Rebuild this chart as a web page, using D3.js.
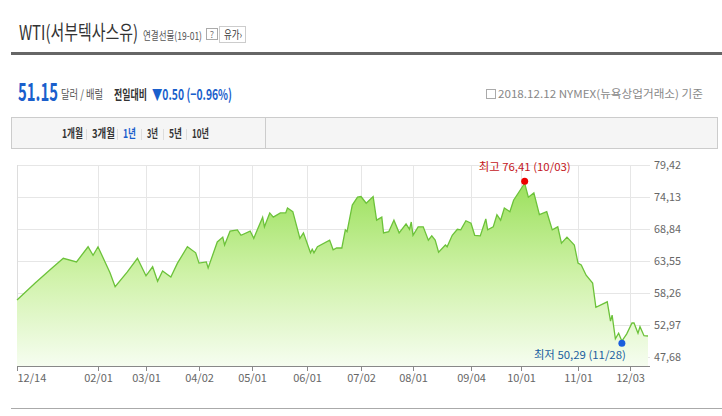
<!DOCTYPE html>
<html><head><meta charset="utf-8">
<script src="https://cdn.jsdelivr.net/npm/d3@7"></script>
<style>body{margin:0;background:#fff;font-family:"Noto Sans CJK KR","Noto Sans",sans-serif}</style>
</head><body><svg id="c" width="722" height="416"></svg>
<script>
const dates=["2017-12-14","2017-12-25","2018-01-03","2018-01-11","2018-01-19","2018-01-26","2018-01-29","2018-02-01","2018-02-08","2018-02-11","2018-02-18","2018-02-24","2018-03-01","2018-03-05","2018-03-08","2018-03-11","2018-03-16","2018-03-20","2018-03-26","2018-03-31","2018-04-02","2018-04-06","2018-04-07","2018-04-12","2018-04-15","2018-04-16","2018-04-19","2018-04-23","2018-04-25","2018-04-30","2018-05-02","2018-05-04","2018-05-07","2018-05-08","2018-05-11","2018-05-13","2018-05-17","2018-05-20","2018-05-21","2018-05-24","2018-05-28","2018-05-30","2018-06-03","2018-06-04","2018-06-05","2018-06-07","2018-06-14","2018-06-16","2018-06-18","2018-06-21","2018-06-23","2018-06-24","2018-06-27","2018-06-30","2018-07-02","2018-07-05","2018-07-09","2018-07-11","2018-07-14","2018-07-15","2018-07-18","2018-07-21","2018-07-24","2018-07-28","2018-07-30","2018-07-31","2018-08-01","2018-08-04","2018-08-07","2018-08-10","2018-08-12","2018-08-14","2018-08-16","2018-08-20","2018-08-21","2018-08-24","2018-08-27","2018-08-29","2018-09-01","2018-09-04","2018-09-06","2018-09-09","2018-09-12","2018-09-13","2018-09-16","2018-09-18","2018-09-20","2018-09-22","2018-09-25","2018-09-27","2018-10-03","2018-10-05","2018-10-08","2018-10-11","2018-10-15","2018-10-18","2018-10-21","2018-10-23","2018-10-26","2018-10-30","2018-11-01","2018-11-03","2018-11-06","2018-11-10","2018-11-12","2018-11-19","2018-11-21","2018-11-22","2018-11-24","2018-11-26","2018-11-28","2018-12-01","2018-12-04","2018-12-05","2018-12-07","2018-12-08","2018-12-10","2018-12-12"];
const prices=[57.1,59.9,62.1,64.0,63.4,65.9,64.5,65.9,61.6,59.3,61.7,64.0,61.1,62.6,60.2,61.9,60.9,63.2,65.9,64.9,63.2,63.4,62.4,66.7,67.5,66.2,68.5,68.7,67.8,68.5,67.3,68.7,70.8,69.2,71.5,70.8,71.5,71.5,72.3,71.7,67.3,68.2,64.9,65.5,64.9,65.9,67.0,65.4,65.7,65.7,68.7,68.4,72.8,74.1,74.2,73.1,74.2,70.3,70.8,68.2,68.4,70.3,68.2,69.7,68.8,70.0,67.8,69.2,69.2,67.0,67.7,67.0,65.0,66.2,65.9,67.8,68.8,68.7,70.2,69.8,67.8,67.7,70.5,68.7,69.2,71.2,70.3,72.3,71.7,73.6,76.41,74.1,74.8,71.2,71.7,68.7,69.2,66.5,67.5,66.2,63.2,62.9,61.2,59.9,55.9,56.8,53.6,54.6,50.7,51.6,50.29,51.5,53.3,53.3,51.6,52.7,51.2,51.15];
const tickDates=["2017-12-14","2018-02-01","2018-03-01","2018-04-02","2018-05-01","2018-06-01","2018-07-02","2018-08-01","2018-09-04","2018-10-01","2018-11-01","2018-12-03","2018-12-12"];
const tickLabels=["12/14","02/01","03/01","04/02","05/01","06/01","07/02","08/01","09/04","10/01","11/01","12/03"];
const yTicks=[47.68,52.97,58.26,63.55,68.84,74.13,79.42];
const tabs=["1개월","3개월","1년","3년","5년","10년"];

const P=d3.timeParse("%Y-%m-%d");
const data=dates.map((d,i)=>({d:P(d),v:prices[i]}));
const svg=d3.select("#c");
const x=d3.scaleTime().domain(tickDates.map(P)).range([17,98,146,199,252,307,361,413,471,521,578,630,648]);
const y=d3.scaleLinear().domain([47.68,79.42]).range([357,165]);

function T(px,py,s,o){const t=svg.append("text").attr("x",px).attr("y",py).text(s)
  .attr("font-size",o.size||11).attr("fill",o.fill||"#333");
  if(o.bold)t.attr("font-weight","bold");
  if(o.anchor)t.attr("text-anchor",o.anchor);
  if(o.w)t.attr("textLength",o.w).attr("lengthAdjust","spacingAndGlyphs");
  return t;}

// header
T(19,40,"WTI(서부텍사스유)",{size:20,w:119,fill:"#333"});
T(143,40,"연결선물(19-01)",{size:11,w:59,fill:"#555"});
svg.append("rect").attr("x",206.5).attr("y",28.5).attr("width",11).attr("height",11).attr("fill","#fff").attr("stroke","#aaa");
T(212,37.5,"?",{size:9,fill:"#777",anchor:"middle"});
svg.append("rect").attr("x",219.5).attr("y",26.5).attr("width",26).attr("height",16).attr("fill","#fff").attr("stroke","#ccc");
T(224,39,"유가›",{size:11,w:18,fill:"#333"});
svg.append("rect").attr("x",11).attr("y",52).attr("width",711).attr("height",3).attr("fill","#666");
T(18,101,"51.15",{size:25,bold:true,fill:"#1a5fcc",w:40});
T(61,99,"달러 / 배럴",{size:12,fill:"#555",w:42});
T(114,99,"전일대비",{size:13,bold:true,fill:"#333",w:33});
T(152,100,"▼0.50 (−0.96%)",{size:15,bold:true,fill:"#1a5fcc",w:80});
T(703,98,"2018.12.12 NYMEX(뉴욕상업거래소) 기준",{size:11,fill:"#888",anchor:"end",w:205});
svg.append("rect").attr("x",486.5).attr("y",89.5).attr("width",9).attr("height",9).attr("fill","none").attr("stroke","#aaa");
// tabs
svg.append("rect").attr("x",11.5).attr("y",117.5).attr("width",706).attr("height",31).attr("fill","#f5f5f5").attr("stroke","#ccc");
svg.append("line").attr("x1",265.5).attr("x2",265.5).attr("y1",118).attr("y2",148).attr("stroke","#ccc");
const tx=[62,92,123,147,169,192], tw=[21,23,13,11,13,17];
tabs.forEach((t,i)=>{
  T(tx[i],138,t,{size:12,bold:true,fill:i==2?"#1a5fcc":"#333",w:tw[i]});
  if(i>0) svg.append("line").attr("x1",tx[i]-5.5).attr("x2",tx[i]-5.5).attr("y1",129).attr("y2",140).attr("stroke","#ddd");
});

// grid
const g=svg.append("g");
yTicks.forEach(t=>{
  g.append("line").attr("x1",17).attr("x2",650).attr("y1",Math.round(y(t))+.5).attr("y2",Math.round(y(t))+.5).attr("stroke","#e6e6e6");
  g.append("text").attr("x",654).attr("y",y(t)+4).attr("font-size",11).attr("fill","#666").attr("textLength",27).attr("lengthAdjust","spacingAndGlyphs").text(t.toFixed(2).replace(".",","));
});
tickLabels.forEach((l,i)=>{
  const xx=Math.round(x(P(tickDates[i])))+.5;
  g.append("line").attr("x1",xx).attr("x2",xx).attr("y1",165).attr("y2",366).attr("stroke","#e6e6e6");
  g.append("line").attr("x1",xx).attr("x2",xx).attr("y1",366).attr("y2",371).attr("stroke","#888");
  g.append("text").attr("x",xx).attr("y",382).attr("font-size",11).attr("fill","#666").attr("text-anchor",i==0?"start":"middle").text(l);
});
g.append("line").attr("x1",17.5).attr("x2",17.5).attr("y1",165).attr("y2",366).attr("stroke","#ddd");

const grad=svg.append("defs").append("linearGradient").attr("id","gr").attr("x1",0).attr("x2",0).attr("y1",0).attr("y2",1);
grad.append("stop").attr("offset","0").attr("stop-color","#9be05c");
grad.append("stop").attr("offset","0.5").attr("stop-color","#cff2a8");
grad.append("stop").attr("offset","1").attr("stop-color","#f6fdf0");
svg.append("path").datum(data).attr("fill","url(#gr)").attr("d",d3.area().x(d=>x(d.d)).y0(366).y1(d=>y(d.v)));
svg.append("path").datum(data).attr("fill","none").attr("stroke","#6cc23a").attr("stroke-width",1.3).attr("d",d3.line().x(d=>x(d.d)).y(d=>y(d.v)));
svg.append("line").attr("x1",17).attr("x2",650).attr("y1",366.5).attr("y2",366.5).attr("stroke","#888");

const hi=data[d3.maxIndex(data,d=>d.v)], lo=data[d3.minIndex(data,d=>d.v)];
svg.append("circle").attr("cx",x(hi.d)).attr("cy",y(hi.v)-2).attr("r",3.5).attr("fill","#e00");
T(x(hi.d),y(hi.v)-12,"최고 76,41 (10/03)",{anchor:"middle",fill:"#c4161c",w:92});
svg.append("circle").attr("cx",x(lo.d)).attr("cy",y(lo.v)+2).attr("r",3.5).attr("fill","#1a5fdd");
T(x(lo.d)+4,y(lo.v)+18,"최저 50,29 (11/28)",{anchor:"end",fill:"#1a5fa0",w:92});
svg.append("line").attr("x1",11).attr("x2",722).attr("y1",408.5).attr("y2",408.5).attr("stroke","#aaa");
</script></body></html>
